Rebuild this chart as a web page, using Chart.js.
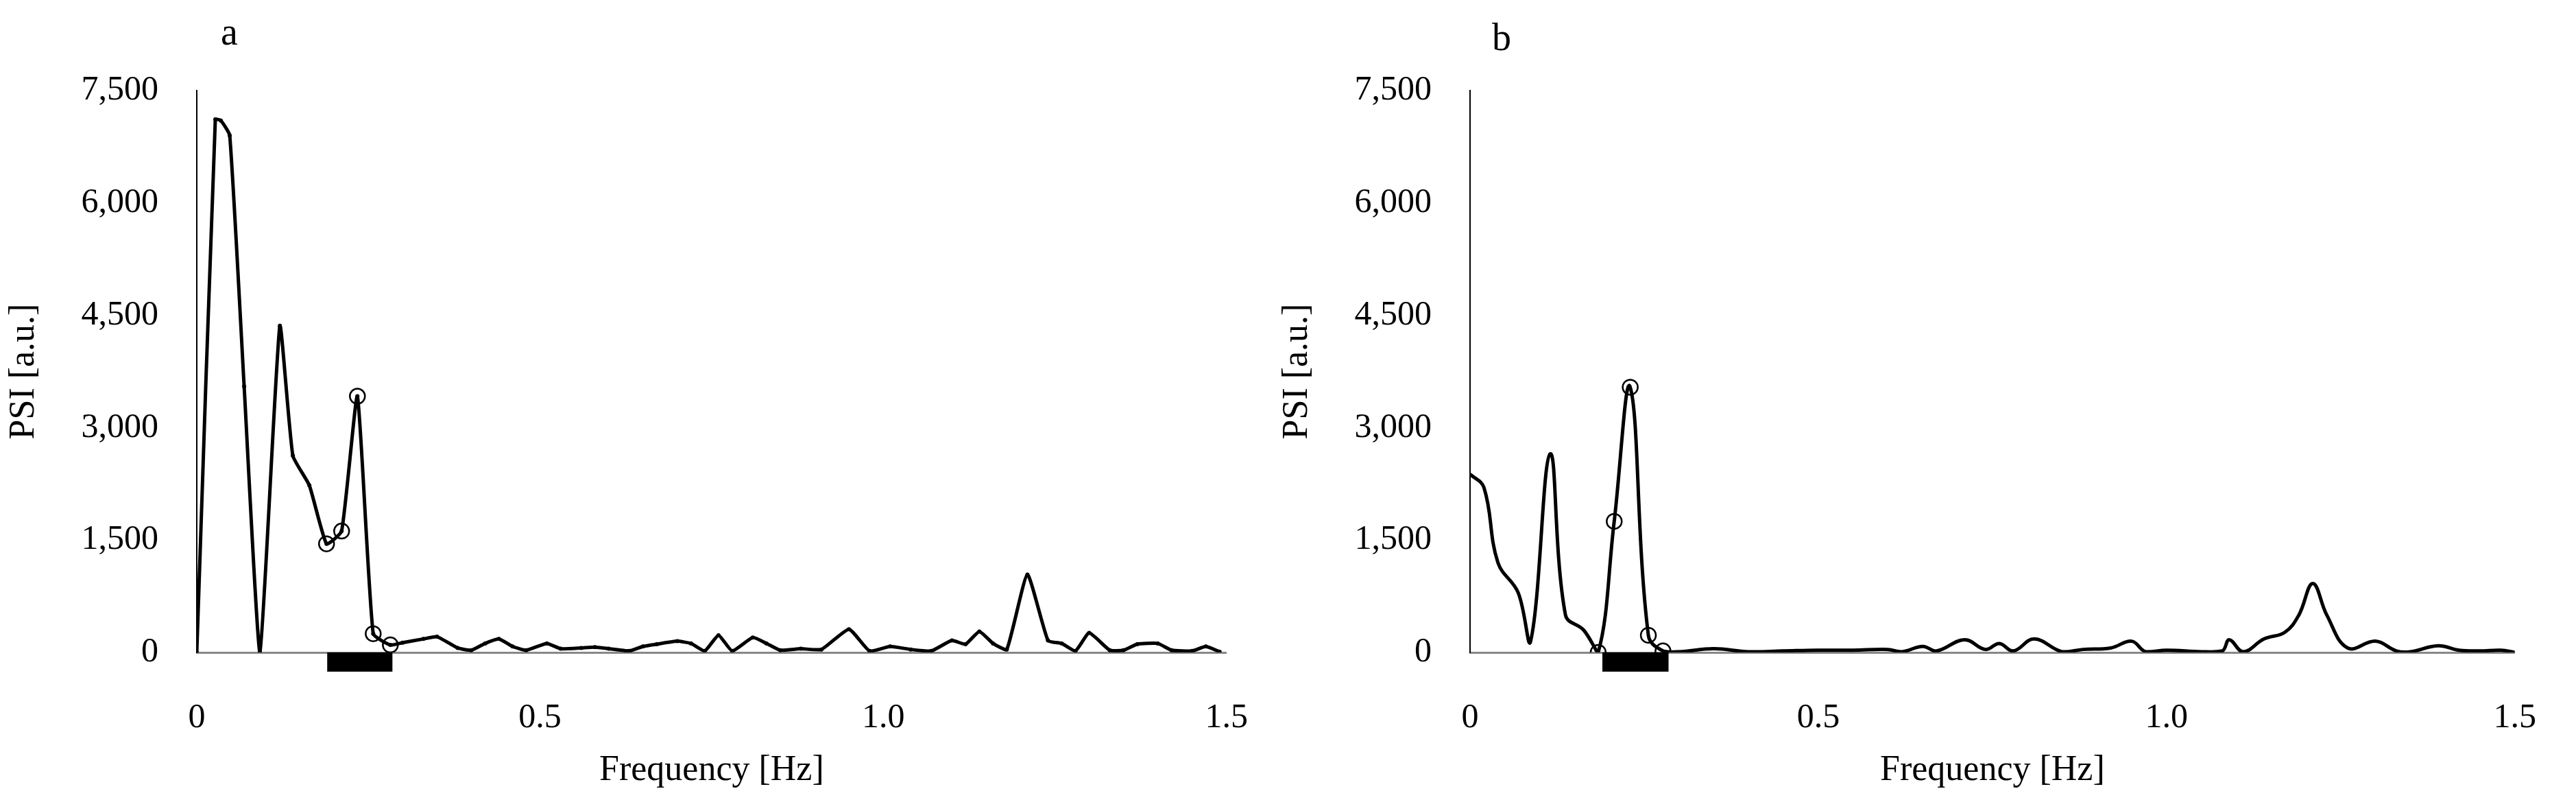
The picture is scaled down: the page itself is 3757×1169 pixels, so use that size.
<!DOCTYPE html>
<html>
<head>
<meta charset="utf-8">
<script src="https://cdn.jsdelivr.net/npm/chart.js@4/dist/chart.umd.min.js"></script>
<style>
  body { margin: 0; background: #fff; width: 3757px; height: 1169px; position: relative; overflow: hidden; }
  .panel { position: absolute; top: 0; height: 1169px; }
  .tag { position: absolute; font-family: "Liberation Serif", serif; font-size: 56px; color: #000; }
</style>
</head>
<body>
<div class="panel" id="pa" style="left:0;width:1878px"><canvas id="chartA"></canvas></div>
<div class="panel" id="pb" style="left:1857px;width:1900px"><canvas id="chartB"></canvas></div>
<div class="tag" style="left:322px;top:14px">a</div>
<div class="tag" style="left:2176px;top:22px">b</div>
<script>
// panel a: spectrum (Hz, a.u.)
const freqA = [0, 0.027, 0.035, 0.048, 0.069, 0.092, 0.121, 0.140, 0.164, 0.189, 0.211, 0.234, 0.257, 0.282,
  0.30, 0.33, 0.35, 0.38, 0.40, 0.42, 0.44, 0.46, 0.48, 0.51, 0.53, 0.56, 0.58, 0.60, 0.63, 0.65, 0.67, 0.70,
  0.72, 0.74, 0.76, 0.78, 0.81, 0.83, 0.85, 0.88, 0.91, 0.95, 0.98, 1.01, 1.04, 1.07, 1.10, 1.12, 1.14, 1.16,
  1.18, 1.21, 1.24, 1.26, 1.28, 1.30, 1.33, 1.35, 1.37, 1.40, 1.42, 1.45, 1.47, 1.49];
const psiA = [0, 7115, 7100, 6900, 3550, 0, 4360, 2625, 2230, 1450, 1620, 3420, 250, 100,
  130, 180, 210, 60, 30, 120, 180, 80, 30, 120, 50, 60, 70, 50, 20, 80, 110, 150,
  120, 20, 230, 20, 200, 120, 30, 50, 40, 310, 20, 80, 40, 20, 160, 110, 280, 120,
  40, 1040, 160, 120, 20, 260, 30, 30, 110, 120, 30, 20, 80, 10];
const circleFreqA = [0.189, 0.211, 0.234, 0.257, 0.282];
const circlePsiA = [1450, 1620, 3420, 250, 100];

// panel b
const freqB = [0, 0.02, 0.04, 0.069, 0.087, 0.115, 0.137, 0.163, 0.184, 0.207, 0.230, 0.256, 0.277,
  0.30, 0.35, 0.40, 0.45, 0.50, 0.55, 0.60, 0.62, 0.65, 0.67, 0.71, 0.74, 0.76, 0.78, 0.81, 0.85, 0.88,
  0.92, 0.95, 0.97, 1.00, 1.05, 1.08, 1.09, 1.11, 1.14, 1.17, 1.19, 1.21, 1.23, 1.26, 1.30, 1.33, 1.35,
  1.39, 1.42, 1.45, 1.48, 1.50];
const psiB = [2380, 2200, 1200, 800, 150, 2650, 500, 300, 0, 1750, 3540, 230, 20,
  10, 50, 10, 20, 30, 30, 40, 10, 80, 20, 170, 40, 120, 20, 180, 10, 40,
  60, 150, 10, 30, 10, 20, 170, 10, 180, 270, 500, 920, 500, 60, 150, 20, 10,
  90, 30, 20, 30, 0];
const circleFreqB = [0.184, 0.207, 0.230, 0.256, 0.277];
const circlePsiB = [0, 1750, 3540, 230, 20];

const yTicks = [0, 1500, 3000, 4500, 6000, 7500];
const xTicks = [0, 0.5, 1, 1.5];
const bandStart = 0.19, bandEnd = 0.285;

const serif = "'Liberation Serif', 'Times New Roman', serif";

const bandPlugin = {
  id: "band",
  afterDatasetsDraw(chart) {
    const { ctx, scales } = chart;
    const x1 = scales.x.getPixelForValue(bandStart);
    const x2 = scales.x.getPixelForValue(bandEnd);
    const y0 = scales.y.getPixelForValue(0);
    ctx.save();
    ctx.fillStyle = "#000";
    ctx.fillRect(x1, y0, x2 - x1, 28);
    ctx.restore();
  }
};

const makeChart = (id, fx, fy, cx, cy, dots, tension) => {
  return new Chart(document.getElementById(id), {
    type: "line",
    data: {
      datasets: [
        {
          data: fx.map((x, i) => ({ x, y: fy[i] })),
          borderColor: "#000", borderWidth: 5, tension: tension,
          pointRadius: dots ? 3 : 0, pointBackgroundColor: "#000", pointBorderWidth: 0
        },
        {
          data: cx.map((x, i) => ({ x, y: cy[i] })),
          showLine: false, pointRadius: 11, pointBorderWidth: 2.5,
          pointBorderColor: "#000", pointBackgroundColor: "rgba(0,0,0,0)"
        }
      ]
    },
    options: {
      responsive: true, maintainAspectRatio: false, animation: false,
      layout: { padding: { top: 132, right: 38, left: 0, bottom: 10 } },
      plugins: { legend: { display: false }, tooltip: { enabled: false } },
      scales: {
        x: {
          type: "linear", min: 0, max: 1.5,
          afterBuildTicks: (s) => { s.ticks = xTicks.map(v => ({ value: v })); },
          afterFit: (s) => { s.height = 208; },
          grid: { display: false },
          border: { display: true, color: "#888", width: 3 },
          ticks: { font: { family: serif, size: 50 }, color: "#000", padding: 58 },
          title: { display: true, text: "Frequency [Hz]", font: { family: serif, size: 52 }, color: "#000", padding: { top: 14 } }
        },
        y: {
          min: 0, max: 7500,
          afterBuildTicks: (s) => { s.ticks = yTicks.map(v => ({ value: v })); },
          afterFit: (s) => { s.width = 287; },
          grid: { display: false },
          border: { display: true, color: "#000", width: 2 },
          ticks: { font: { family: serif, size: 50 }, color: "#000", padding: 48 },
          title: { display: true, text: "PSI [a.u.]", font: { family: serif, size: 52 }, color: "#000", padding: { bottom: 10 } }
        }
      }
    },
    plugins: [bandPlugin]
  });
};

makeChart("chartA", freqA, psiA, circleFreqA, circlePsiA, true, 0.15);
makeChart("chartB", freqB, psiB, circleFreqB, circlePsiB, false, 0.4);
</script>
</body>
</html>
